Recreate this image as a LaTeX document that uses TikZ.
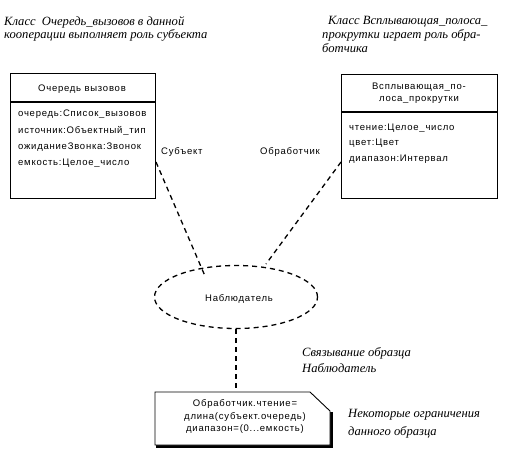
\documentclass[tikz,border=0pt]{standalone}
\usepackage{fontspec}
\setmainfont{Liberation Serif}
\setsansfont{Liberation Sans}
\usetikzlibrary{shapes.geometric}
\newfontfamily\boxfont[LetterSpace=8]{Liberation Sans}
\tikzset{
  classbox/.style={draw, line width=0.9pt, anchor=north west, inner sep=0pt},
  divider/.style={line width=1.6pt},
  boxtext/.style={font=\boxfont\fontsize{9.5}{11}\selectfont, inner sep=0pt},
  attr/.style={boxtext, anchor=west},
  remark/.style={font=\itshape\fontsize{12.6}{13}\selectfont, inner sep=0pt, anchor=west},
  role/.style={boxtext, anchor=west},
  link/.style={dashed, dash pattern=on 5pt off 4pt, line width=1.3pt},
}
\begin{document}
\begin{tikzpicture}[x=1pt,y=-1pt]
\useasboundingbox[fill=white] (0,0) rectangle (510,460);

% top remarks
\node[remark] (r1) at (4,22) {Класс\ \ Очередь\_вызовов в данной};
\node[remark] (r2) at (4,35) {кооперации выполняет роль субъекта};
\node[remark] (r3) at (328,22) {Класс Всплывающая\_полоса\_};
\node[remark] (r4) at (322,35) {прокрутки играет роль обра-};
\node[remark] (r5) at (322,48) {ботчика};

% left class
\node[classbox, minimum width=145pt, minimum height=125pt] (q) at (10,73) {};
\draw[divider] (10,102) -- (155,102);
\node[boxtext] (qt) at (82,89) {Очередь вызовов};
\node[attr] (qa1) at (18,114) {очередь:Список\_вызовов};
\node[attr] (qa2) at (18,131) {источник:Объектный\_тип};
\node[attr] (qa3) at (18,147) {ожиданиеЗвонка:Звонок};
\node[attr] (qa4) at (18,163) {емкость:Целое\_число};

% right class
\node[classbox, minimum width=156pt, minimum height=124pt] (p) at (341,74) {};
\draw[divider] (341,112) -- (497,112);
\node[boxtext] (pt1) at (419,87) {Всплывающая\_по-};
\node[boxtext] (pt2) at (419,100) {лоса\_прокрутки};
\node[attr] (pa1) at (349,128) {чтение:Целое\_число};
\node[attr] (pa2) at (349,143) {цвет:Цвет};
\node[attr] (pa3) at (349,159) {диапазон:Интервал};

% role labels
\node[role] (s) at (161,152) {Субъект};
\node[role] (h) at (260,152) {Обработчик};

% collaboration ellipse
\node[ellipse, draw, link, minimum width=163pt, minimum height=63pt, inner sep=0pt] (obs) at (236,297) {};
\node[boxtext] (obst) at (239,299) {Наблюдатель};

% note
\coordinate (nA) at (155,392);
\coordinate (nB) at (310,392);
\coordinate (nC) at (330,411);
\coordinate (nD) at (330,445);
\coordinate (nE) at (155,445);
\draw[line width=3pt] (331,412) -- (331,446.5) -- (156,446.5);
\draw[line width=0.9pt, fill=white] (nA) -- (nB) -- (nC) -- (nD) -- (nE) -- cycle;
\node[boxtext] (n1) at (245,404) {Обработчик.чтение=};
\node[boxtext] (n2) at (245,417) {длина(субъект.очередь)};
\node[boxtext] (n3) at (245,429) {диапазон=(0...емкость)};

% connectors
\coordinate (qe) at (156,162);
\coordinate (oa) at (205,276);
\coordinate (pe) at (341,162);
\coordinate (ob) at (266,264);
\draw[link] (qe) -- (oa);
\draw[link] (pe) -- (ob);
\draw[link] (obs.south) -- (nA -| obs.south);

% lower remarks
\node[remark] (b1) at (302,353) {Связывание образца};
\node[remark] (b2) at (302,368) {Наблюдатель};
\node[remark] (b3) at (348,415) {Некоторые ограничения};
\node[remark] (b4) at (348,432) {данного образца};
\end{tikzpicture}
\end{document}
